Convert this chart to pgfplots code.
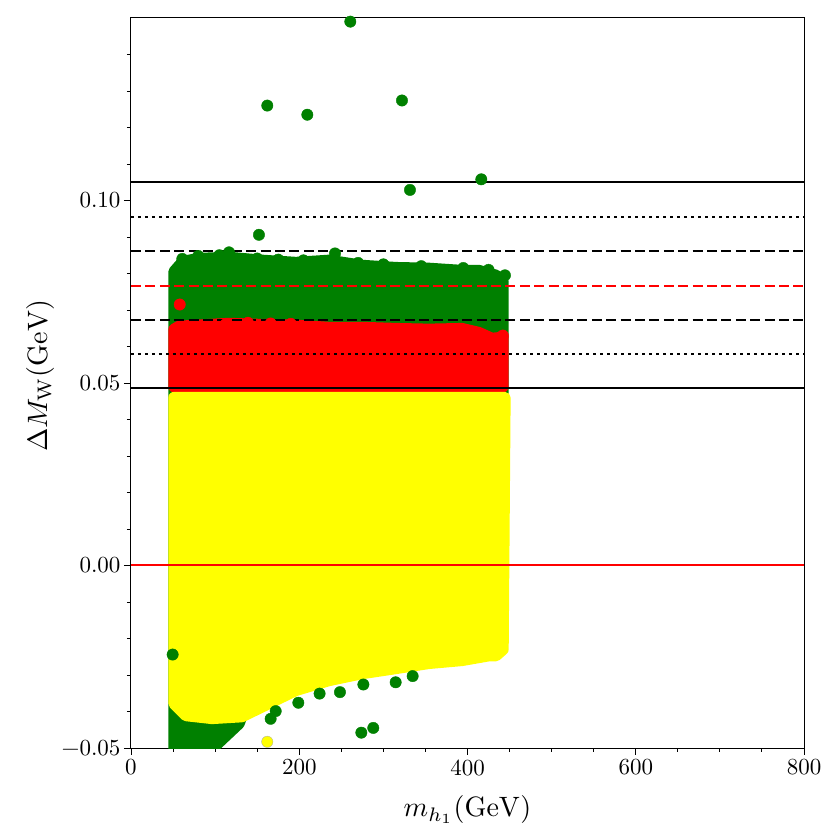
\documentclass[border=0pt]{standalone}
\usepackage{pgfplots}
\pgfplotsset{compat=1.18}
\definecolor{mgreen}{RGB}{0,128,0}
\definecolor{mred}{RGB}{255,0,0}
\definecolor{myellow}{RGB}{255,255,0}
\newcommand{\tl}[1]{\scalebox{2.3}{#1}}
\begin{document}
\begin{tikzpicture}
\begin{axis}[
  scale only axis,
  width=673pt, height=730pt,
  xmin=0, xmax=800, ymin=-0.05, ymax=0.15,
  xtick={0,200,400,600,800},
  xticklabels={\tl{0},\tl{200},\tl{400},\tl{600},\tl{800}},
  minor xtick={50,100,150,250,300,350,450,500,550,650,700,750},
  ytick={-0.05,0,0.05,0.10},
  yticklabels={\tl{−0.05},\tl{0.00},\tl{0.05},\tl{0.10}},
  minor ytick={-0.04,-0.03,-0.02,-0.01,0.01,0.02,0.03,0.04,0.06,0.07,0.08,0.09,0.11,0.12,0.13,0.14},
  xtick pos=left, ytick pos=left,
  tick align=outside,
  major tick length=7pt, minor tick length=4pt,
  every tick/.style={black, line width=0.9pt},
  axis line style={line width=1pt},
  tick label style={font=\normalsize},
  xticklabel style={yshift=-1pt},
  xlabel={\scalebox{2.8}{$m_{h_1}(\mathrm{GeV})$}},
  ylabel={\scalebox{2.8}{$\Delta M_{\mathrm{W}}(\mathrm{GeV})$}},
  every axis x label/.style={at={(rel axis cs:0.5,-0.0945)}, anchor=base, font=\normalsize},
  every axis y label/.style={at={(rel axis cs:-0.1248,0.51)}, rotate=90, anchor=base, font=\normalsize},
]
% green region (marker centres)
\addplot[fill=mgreen, draw=mgreen, line width=11.4pt, line join=round, mark=none] coordinates {
(51.1,-0.0500) (51.1,0.0805) (61.8,0.0833) (80.8,0.0841) (116.5,0.0844) (155.7,0.0836)
(196.1,0.0830) (235.3,0.0836) (274.6,0.0822) (315.0,0.0816) (354.2,0.0814) (393.4,0.0808)
(413.6,0.0808) (433.8,0.0795) (442.2,0.0778) (442.2,-0.0150) (300.0,-0.0250) (140.0,-0.0360)
(128.4,-0.0433) (97.5,-0.0500)} -- cycle;
\addplot[only marks, mark=*, mark size=5.7pt, color=mgreen] coordinates {
(260.7,0.1490) (162.0,0.1260) (209.6,0.1235) (322.1,0.1274) (331.6,0.1029) (416.4,0.1058)
(152.1,0.0906) (242.5,0.0855) (116.5,0.0858) (444.5,0.0795)
(61.0,0.0840) (80.0,0.0848) (105.0,0.0850) (150.0,0.0841) (175.0,0.0838) (205.0,0.0836)
(270.0,0.0829) (300.0,0.0825) (345.0,0.0820) (395.0,0.0815) (425.0,0.0810)
(49.5,-0.0244) (166.0,-0.0420) (172.0,-0.0399) (198.9,-0.0376) (224.2,-0.0351) (248.4,-0.0347)
(276.2,-0.0326) (314.6,-0.0320) (334.8,-0.0303) (273.8,-0.0458) (288.0,-0.0445)};
% red region
\addplot[fill=mred, draw=mred, line width=11.4pt, line join=round, mark=none] coordinates {
(51.1,0.0490) (51.1,0.0647) (57.1,0.0655) (77.3,0.0658) (116.5,0.0663) (155.7,0.0660)
(196.1,0.0658) (235.3,0.0652) (274.6,0.0652) (315.0,0.0649) (354.2,0.0647) (393.4,0.0649)
(413.6,0.0638) (429.1,0.0622) (442.2,0.0625) (442.2,0.0490)} -- cycle;
\addplot[only marks, mark=*, mark size=5.7pt, color=mred] coordinates {
(57.9,0.0715) (112.5,0.0661) (139.0,0.0665) (166.0,0.0663) (190.0,0.0662) (442.0,0.0630)};
% yellow region
\addplot[fill=myellow, draw=myellow, line width=11.4pt, line join=round, mark=none] coordinates {
(51.1,0.0460) (444.5,0.0460) (442.2,-0.0230) (433.8,-0.0247) (425.5,-0.0247) (393.4,-0.0260)
(354.2,-0.0268) (315.0,-0.0282) (274.6,-0.0296) (235.3,-0.0315) (196.1,-0.0342) (164.0,-0.0378)
(131.9,-0.0414) (96.3,-0.0419) (65.4,-0.0411) (51.1,-0.0378)} -- cycle;
\addplot[only marks, mark=*, mark size=5.7pt, color=myellow, mark options={draw=black!35, line width=0.3pt}] coordinates {(162.0,-0.0483)};
% reference lines
\addplot[color=black, line width=2pt, mark=none] coordinates {(0,0.1050) (800,0.1050)};
\addplot[color=black, line width=2pt, mark=none] coordinates {(0,0.0485) (800,0.0485)};
\addplot[color=black, line width=2pt, dash pattern=on 2.8pt off 4.2pt, mark=none] coordinates {(0,0.0955) (800,0.0955)};
\addplot[color=black, line width=2pt, dash pattern=on 2.8pt off 4.2pt, mark=none] coordinates {(0,0.0579) (800,0.0579)};
\addplot[color=black, line width=2pt, dash pattern=on 10pt off 4.4pt, mark=none] coordinates {(0,0.0861) (800,0.0861)};
\addplot[color=black, line width=2pt, dash pattern=on 10pt off 4.4pt, mark=none] coordinates {(0,0.0673) (800,0.0673)};
\addplot[color=mred, line width=2pt, dash pattern=on 10pt off 4.4pt, mark=none] coordinates {(0,0.0767) (800,0.0767)};
\addplot[color=mred, line width=2pt, mark=none] coordinates {(0,0) (800,0)};
\end{axis}
\path ([shift={(-131pt,-92pt)}]current axis.south west) rectangle ([shift={(36pt,18pt)}]current axis.north east);
\end{tikzpicture}
\end{document}
